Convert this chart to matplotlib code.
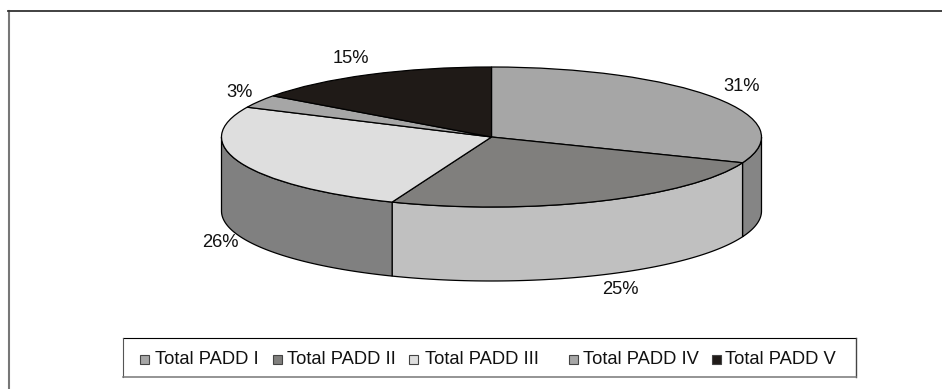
import numpy as np
import matplotlib
matplotlib.use('Agg')
import matplotlib.pyplot as plt
from matplotlib.patches import Polygon, Rectangle

plt.rcParams['font.family'] = ['Liberation Sans', 'DejaVu Sans']

# Share of each district
labels = ['Total PADD I', 'Total PADD II', 'Total PADD III', 'Total PADD IV', 'Total PADD V']
shares = [31, 25, 26, 3, 15]
top_colors = ['#a6a6a6', '#807f7d', '#dedede', '#a6a6a6', '#1f1a17']
side_colors = ['#858585', '#c0c0c0', '#808080', '#a6a6a6', '#1f1a17']

# Pixel positions for the free-standing text
pct_x = [742, 620, 220, 240, 351]
pct_y = [86, 289, 242, 92, 58]
legend_marker_x = [144.5, 277, 413, 573, 716]
legend_text_x = [155, 287, 425, 583, 725]

WIDTH, HEIGHT = 942, 389
FONT = 13.2

fig = plt.figure(figsize=(WIDTH / 100, HEIGHT / 100), dpi=100)

# Overlay in pixel coordinates for the frame, legend and labels
ax = fig.add_axes([0, 0, 1, 1])
ax.set_xlim(0, WIDTH)
ax.set_ylim(HEIGHT, 0)
ax.axis('off')

ax.plot([8.5, 8.5], [11, HEIGHT], color='#777777', lw=1.5)
ax.plot([8, WIDTH], [11, 11], color='#333333', lw=1.3)

# Legend box, the four edges have different shades
ax.plot([122.5, 856], [338, 338], color='black', lw=0.8)
ax.plot([122.5, 122.5], [338, 377], color='#555555', lw=0.8)
ax.plot([856, 856], [338, 377], color='#444444', lw=1.0)
ax.plot([122.5, 856], [377, 377], color='#777777', lw=1.1)

for name, color, mx, tx in zip(labels, top_colors, legend_marker_x, legend_text_x):
    ax.add_patch(Rectangle((mx - 4.5, 354.5), 9, 9, facecolor=color, edgecolor='#444444', lw=0.8))
    ax.text(tx, 360, name, fontsize=FONT, color='#111111', ha='left', va='center')

for share, x, y in zip(shares, pct_x, pct_y):
    ax.text(x, y, f'{share}%', fontsize=FONT, color='#111111', ha='center', va='center')

# Pie axes: a unit circle squashed into an ellipse, with room below for the wall
left, right = 221.5, 761.5
top, middle, depth = 67, 137, 74
radius_px = middle - top
drop = depth / radius_px
bottom = middle + radius_px + depth

pie_ax = fig.add_axes([left / WIDTH, 1 - bottom / HEIGHT,
                       (right - left) / WIDTH, (bottom - top) / HEIGHT])

# Walls, only the front half of the disc (90 to 270 degrees clockwise from top) shows
edges = np.concatenate([[0], np.cumsum(shares)]) * 360 / sum(shares)
for start, end, color in zip(edges[:-1], edges[1:], side_colors):
    a, b = max(start, 90), min(end, 270)
    if a >= b:
        continue
    t = np.radians(np.linspace(a, b, 80))
    x, y = np.sin(t), np.cos(t)
    pts = np.column_stack([np.r_[x, x[::-1]], np.r_[y, y[::-1] - drop]])
    pie_ax.add_patch(Polygon(pts, closed=True, facecolor=color, edgecolor='black',
                             lw=0.9, clip_on=False, zorder=1))

wedges, _ = pie_ax.pie(shares, colors=top_colors, startangle=90, counterclock=False,
                       radius=1, wedgeprops={'edgecolor': 'black', 'linewidth': 0.9})
for w in wedges:
    w.set_zorder(2)

pie_ax.set_aspect('auto')
pie_ax.set_xlim(-1, 1)
pie_ax.set_ylim(-1 - drop, 1)
pie_ax.axis('off')

fig.savefig('out.png', dpi=100)
